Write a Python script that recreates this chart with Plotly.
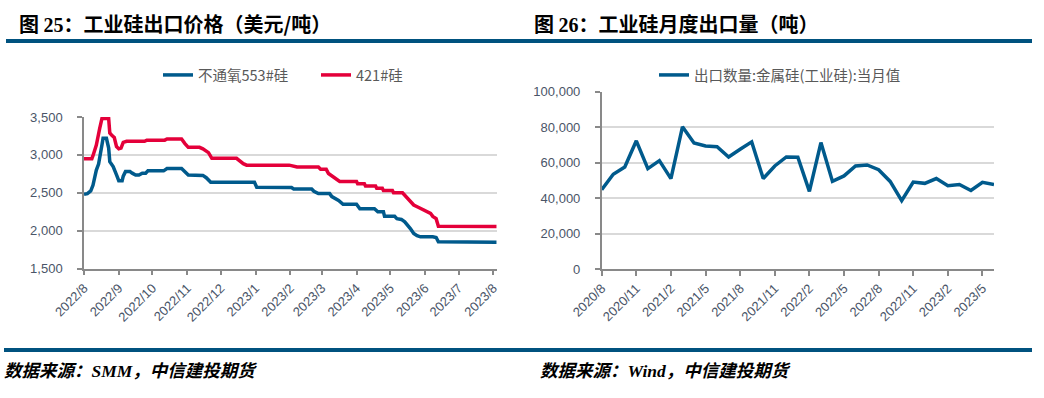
import plotly.graph_objects as go

# ---------------- data: left chart (US$/t) ----------------
blue_dates = ["2022-08-01", "2022-08-04", "2022-08-07", "2022-08-09", "2022-08-12", "2022-08-14",
              "2022-08-17", "2022-08-18", "2022-08-21", "2022-08-23", "2022-08-24", "2022-08-27",
              "2022-08-30", "2022-09-01", "2022-09-04", "2022-09-05", "2022-09-07", "2022-09-11",
              "2022-09-13", "2022-09-16", "2022-09-19", "2022-09-22", "2022-09-25", "2022-09-27",
              "2022-10-11", "2022-10-14", "2022-10-27", "2022-10-30", "2022-11-02", "2022-11-15",
              "2022-11-18", "2022-11-22", "2022-12-31", "2023-01-02", "2023-02-02", "2023-02-04",
              "2023-02-20", "2023-02-22", "2023-02-26", "2023-03-08", "2023-03-10", "2023-03-16",
              "2023-03-20", "2023-04-01", "2023-04-04", "2023-04-17", "2023-04-20", "2023-04-25",
              "2023-04-26", "2023-05-05", "2023-05-07", "2023-05-11", "2023-05-14", "2023-05-19",
              "2023-05-22", "2023-05-25", "2023-05-28", "2023-06-08", "2023-06-11", "2023-06-13",
              "2023-08-04"]
blue_vals = [2480, 2490, 2525, 2600, 2800, 2880,
             3130, 3220, 3220, 3090, 2910, 2846,
             2736, 2660, 2660, 2720, 2780, 2780,
             2760, 2736, 2736, 2760, 2760, 2790,
             2790, 2820, 2820, 2780, 2736, 2730,
             2700, 2640, 2640, 2575, 2570, 2550,
             2550, 2520, 2490, 2490, 2450, 2400,
             2350, 2350, 2290, 2290, 2250, 2250,
             2190, 2190, 2160, 2150, 2118, 2030,
             1965, 1935, 1920, 1920, 1912, 1855,
             1850]

red_dates = ["2022-08-01", "2022-08-08", "2022-08-09", "2022-08-12", "2022-08-15", "2022-08-17",
             "2022-08-23", "2022-08-24", "2022-08-26", "2022-08-28", "2022-08-30", "2022-09-01",
             "2022-09-03", "2022-09-05", "2022-09-08", "2022-09-24", "2022-09-26", "2022-10-12",
             "2022-10-14", "2022-10-27", "2022-10-30", "2022-11-02", "2022-11-12", "2022-11-15",
             "2022-11-20", "2022-11-23", "2022-12-15", "2022-12-18", "2022-12-21", "2022-12-24",
             "2023-01-31", "2023-02-07", "2023-02-26", "2023-02-28", "2023-03-05", "2023-03-07",
             "2023-03-16", "2023-03-17", "2023-04-01", "2023-04-02", "2023-04-08", "2023-04-09",
             "2023-04-18", "2023-04-19", "2023-04-24", "2023-04-25", "2023-05-03", "2023-05-04",
             "2023-05-12", "2023-05-14", "2023-05-19", "2023-05-22", "2023-05-26", "2023-06-01",
             "2023-06-06", "2023-06-08", "2023-06-11", "2023-06-13", "2023-08-04"]
red_vals = [2950, 2950, 2990, 3130, 3350, 3480,
            3480, 3290, 3255, 3230, 3110, 3080,
            3090, 3165, 3180, 3180, 3195, 3195,
            3210, 3210, 3150, 3100, 3100, 3080,
            3030, 2955, 2955, 2920, 2885, 2865,
            2865, 2840, 2840, 2810, 2810, 2755,
            2670, 2650, 2650, 2620, 2620, 2590,
            2590, 2560, 2560, 2530, 2530, 2500,
            2500, 2470, 2400, 2340, 2310, 2270,
            2230, 2190, 2160, 2060, 2055]

# ---------------- data: right chart (t) ----------------
months = ["2020/8", "2020/9", "2020/10", "2020/11", "2020/12", "2021/1", "2021/2", "2021/3",
          "2021/4", "2021/5", "2021/6", "2021/7", "2021/8", "2021/9", "2021/10", "2021/11",
          "2021/12", "2022/1", "2022/2", "2022/3", "2022/4", "2022/5", "2022/6", "2022/7",
          "2022/8", "2022/9", "2022/10", "2022/11", "2022/12", "2023/1", "2023/2", "2023/3",
          "2023/4", "2023/5", "2023/6"]
export_vals = [44700, 53400, 57500, 72300, 56600, 61100, 51000, 80200,
               71100, 69400, 69000, 63200, 67500, 71700, 51000, 58100,
               63200, 63000, 43800, 71300, 49400, 52500, 58100, 58700,
               56000, 49400, 38500, 49000, 48300, 51000, 47000, 47700,
               44300, 48900, 47700]
month_ticks = ["2020/8", "2020/11", "2021/2", "2021/5", "2021/8", "2021/11",
               "2022/2", "2022/5", "2022/8", "2022/11", "2023/2", "2023/5"]

name_blue = "不通氧553#硅"
name_red = "421#硅"
name_exp = "出口数量:金属硅(工业硅):当月值"

# ---------------- figure ----------------
W, H = 1044, 398
BLUE = "#005A8C"
RED = "#E4003A"
TICKC = "#4A5568"
AXC = "#898989"
GRID = "#D9D9D9"
CJK = "Noto Sans CJK SC"


def px(x):
    return x / W


def py(y):
    return 1 - y / H


fig = go.Figure()
fig.add_trace(go.Scatter(x=blue_dates, y=blue_vals, name=name_blue, mode="lines",
                         line=dict(color=BLUE, width=3.5), xaxis="x", yaxis="y", legend="legend"))
fig.add_trace(go.Scatter(x=red_dates, y=red_vals, name=name_red, mode="lines",
                         line=dict(color=RED, width=3.5), xaxis="x", yaxis="y", legend="legend"))
fig.add_trace(go.Scatter(x=months, y=export_vals, name=name_exp, mode="lines",
                         line=dict(color=BLUE, width=3.5), xaxis="x2", yaxis="y2", legend="legend2"))

tickfont = dict(family="Liberation Sans, Arial", size=13, color=TICKC)
common_x = dict(showline=True, linecolor=AXC, linewidth=1.5, ticks="outside", ticklen=5,
                tickcolor=AXC, tickwidth=1.5, tickangle=-45, tickfont=tickfont, showgrid=False,
                zeroline=False, automargin=False)
common_y = dict(showline=True, linecolor=AXC, linewidth=1.5, ticks="outside", ticklen=5,
                tickcolor=AXC, tickwidth=1.5, tickfont=tickfont, showgrid=True, gridcolor=GRID,
                gridwidth=1.5, zeroline=False, tickformat=",", ticklabelstandoff=12,
                automargin=False)

fig.update_layout(
    width=W, height=H, margin=dict(l=0, r=0, t=0, b=0, autoexpand=False),
    paper_bgcolor="white", plot_bgcolor="white",
    font=dict(family=CJK, color="#595959"),
    xaxis=dict(domain=[px(84), px(496.7)], anchor="y", type="date",
               range=["2022-08-01", "2023-08-04"], dtick="M1", tick0="2022-08-01",
               tickformat="%Y/%-m", **common_x),
    yaxis=dict(domain=[py(268.7), py(117)], anchor="x", range=[1500, 3500], dtick=500,
               **common_y),
    xaxis2=dict(domain=[px(601.7), px(994)], anchor="y2", type="category",
                range=[0, len(months) - 1], tickmode="array", tickvals=month_ticks,
                ticktext=month_ticks, **common_x),
    yaxis2=dict(domain=[py(269), py(91.7)], anchor="x2", range=[0, 100000], dtick=20000,
                **common_y),
    legend=dict(orientation="h", x=px(158), y=py(75), xanchor="left", yanchor="middle",
                entrywidth=113, entrywidthmode="pixels",
                font=dict(family=CJK, size=14.5, color="#595959"), bgcolor="rgba(0,0,0,0)"),
    legend2=dict(orientation="h", x=px(654), y=py(75), xanchor="left", yanchor="middle",
                 font=dict(family=CJK, size=14.5, color="#595959"), bgcolor="rgba(0,0,0,0)"),
    showlegend=True,
)

HDR = "#00527F"
fig.add_shape(type="line", xref="paper", yref="paper", x0=px(6), x1=px(1032), y0=py(41), y1=py(41),
              line=dict(color=HDR, width=4))
fig.add_shape(type="line", xref="paper", yref="paper", x0=px(4), x1=px(1032), y0=py(350), y1=py(350),
              line=dict(color=HDR, width=4))

SERIF = "Liberation Serif, Times New Roman"
fig.add_annotation(xref="paper", yref="paper", x=px(17), y=py(23.5), xanchor="left", yanchor="middle",
                   showarrow=False,
                   text=f"<b>图 <span style='font-family:{SERIF}'>25</span>：工业硅出口价格（美元/吨）</b>",
                   font=dict(family=CJK, size=20, color="black"))
fig.add_annotation(xref="paper", yref="paper", x=px(532), y=py(23.5), xanchor="left", yanchor="middle",
                   showarrow=False,
                   text=f"<b>图 <span style='font-family:{SERIF}'>26</span>：工业硅月度出口量（吨）</b>",
                   font=dict(family=CJK, size=20, color="black"))
fig.add_annotation(xref="paper", yref="paper", x=px(2), y=py(369), xanchor="left", yanchor="middle",
                   showarrow=False,
                   text=f"<b><i>数据来源：<span style='font-family:{SERIF}'>SMM</span>，中信建投期货</i></b>",
                   font=dict(family=CJK, size=17.5, color="black"))
fig.add_annotation(xref="paper", yref="paper", x=px(538), y=py(369), xanchor="left", yanchor="middle",
                   showarrow=False,
                   text=f"<b><i>数据来源：<span style='font-family:{SERIF}'>Wind</span>，中信建投期货</i></b>",
                   font=dict(family=CJK, size=17.5, color="black"))

fig.write_html("out.html", config={"displayModeBar": False},
               post_script="document.body.style.margin='0';")
